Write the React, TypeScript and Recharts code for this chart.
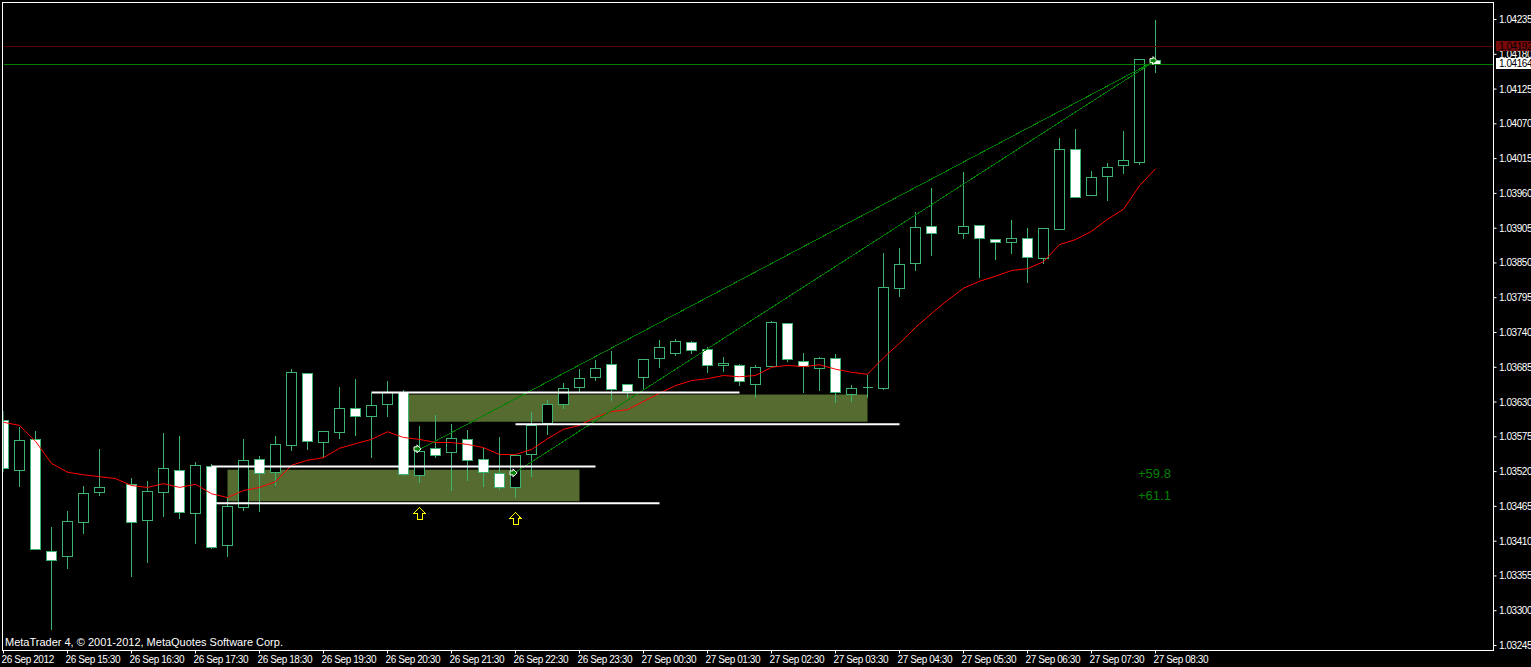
import React from "react"
import { ComposedChart, Bar, Line, XAxis, YAxis, ReferenceArea, ReferenceLine, ReferenceDot } from "recharts"

const FONT = "'Liberation Sans', Arial, sans-serif"
const CANDLE = "#3cb371"

// M15 bars, null where the feed has no bar
const opens = [
  1.03601, 1.03522, 1.03571, 1.03394, 1.03386, 1.03440, 1.03487, null, 1.03500, 1.03443,
  1.03487, 1.03522, 1.03454, 1.03528, 1.03403, 1.03463, 1.03539, 1.03519, 1.03561, 1.03675,
  1.03566, 1.03582, 1.03620, 1.03607, 1.03626, 1.03645, 1.03514, 1.03557, 1.03550, 1.03571,
  1.03539, 1.03517, 1.03495, 1.03547, 1.03596, 1.03626, 1.03653, 1.03669, 1.03689, 1.03658,
  1.03669, 1.03699, 1.03707, 1.03724, 1.03713, 1.03688, 1.03688, 1.03658, 1.03686, 1.03754,
  1.03694, 1.03683, 1.03699, 1.03642, 1.03653, 1.03651, 1.03810, 1.03849, 1.03908, null,
  1.03897, 1.03909, 1.03887, 1.03882, 1.03889, 1.03857, 1.03903, 1.04029, 1.03957, 1.03987,
  1.04004, 1.04009, 1.04170,
]
const highs = [
  1.03617, 1.03591, 1.03585, 1.03433, 1.03458, 1.03498, 1.03557, null, 1.03511, 1.03506,
  1.03582, 1.03577, 1.03536, 1.03533, 1.03481, 1.03572, 1.03546, 1.03577, 1.03683, 1.03677,
  1.03583, 1.03655, 1.03667, 1.03645, 1.03664, 1.03650, 1.03593, 1.03610, 1.03596, 1.03587,
  1.03558, 1.03576, 1.03546, 1.03615, 1.03634, 1.03661, 1.03683, 1.03697, 1.03712, 1.03658,
  1.03697, 1.03729, 1.03731, 1.03727, 1.03718, 1.03702, 1.03691, 1.03689, 1.03759, 1.03754,
  1.03708, 1.03702, 1.03707, 1.03658, 1.03674, 1.03867, 1.03874, 1.03931, 1.03969, null,
  1.03995, 1.03909, 1.03889, 1.03919, 1.03906, 1.03905, 1.04048, 1.04063, 1.03996, 1.04009,
  1.04060, 1.04172, 1.04235,
]
const lows = [
  1.03520, 1.03496, 1.03397, 1.03270, 1.03367, 1.03422, 1.03482, null, 1.03354, 1.03376,
  1.03449, 1.03446, 1.03406, 1.03398, 1.03386, 1.03458, 1.03457, 1.03498, 1.03553, 1.03555,
  1.03542, 1.03572, 1.03577, 1.03542, 1.03607, 1.03514, 1.03503, 1.03542, 1.03490, 1.03506,
  1.03496, 1.03492, 1.03479, 1.03512, 1.03579, 1.03620, 1.03645, 1.03664, 1.03632, 1.03637,
  1.03651, 1.03685, 1.03704, 1.03707, 1.03677, 1.03678, 1.03656, 1.03637, 1.03686, 1.03694,
  1.03645, 1.03648, 1.03629, 1.03631, 1.03637, 1.03650, 1.03797, 1.03838, 1.03862, null,
  1.03889, 1.03827, 1.03855, 1.03865, 1.03819, 1.03849, 1.03903, 1.03954, 1.03957, 1.03949,
  1.03991, 1.04006, 1.04151,
]
const closes = [
  1.03525, 1.03569, 1.03397, 1.03379, 1.03441, 1.03485, 1.03495, null, 1.03440, 1.03489,
  1.03525, 1.03455, 1.03530, 1.03400, 1.03465, 1.03538, 1.03517, 1.03563, 1.03677, 1.03568,
  1.03583, 1.03620, 1.03607, 1.03625, 1.03645, 1.03515, 1.03552, 1.03546, 1.03572, 1.03538,
  1.03519, 1.03495, 1.03546, 1.03593, 1.03626, 1.03651, 1.03667, 1.03683, 1.03650, 1.03647,
  1.03697, 1.03716, 1.03726, 1.03712, 1.03688, 1.03691, 1.03663, 1.03685, 1.03756, 1.03697,
  1.03686, 1.03699, 1.03645, 1.03651, 1.03653, 1.03811, 1.03848, 1.03906, 1.03897, null,
  1.03908, 1.03889, 1.03882, 1.03889, 1.03859, 1.03905, 1.04029, 1.03954, 1.03985, 1.04001,
  1.04012, 1.04172, 1.04164,
]
const ma = [
  1.03598, 1.03593, 1.03568, 1.03533, 1.03519, 1.03515, 1.03512, 1.03509, 1.03498, 1.03495,
  1.03501, 1.03495, 1.03500, 1.03485, 1.03479, 1.03490, 1.03495, 1.03504, 1.03530, 1.03538,
  1.03542, 1.03557, 1.03564, 1.03571, 1.03583, 1.03574, 1.03571, 1.03566, 1.03566, 1.03563,
  1.03558, 1.03547, 1.03547, 1.03555, 1.03572, 1.03587, 1.03593, 1.03606, 1.03615, 1.03618,
  1.03631, 1.03644, 1.03656, 1.03664, 1.03667, 1.03672, 1.03670, 1.03672, 1.03685, 1.03688,
  1.03686, 1.03689, 1.03682, 1.03677, 1.03674, 1.03700, 1.03723, 1.03748, 1.03770, 1.03791,
  1.03810, 1.03821, 1.03829, 1.03838, 1.03841, 1.03852, 1.03879, 1.03887, 1.03900, 1.03919,
  1.03935, 1.03972, 1.03999,
]

const priceTicks = [
  1.04235, 1.0418, 1.04125, 1.0407, 1.04015, 1.0396, 1.03905, 1.0385, 1.03795, 1.0374,
  1.03685, 1.0363, 1.03575, 1.0352, 1.03465, 1.0341, 1.03355, 1.033, 1.03245,
]
const timeTicks = [0, 4, 8, 12, 16, 20, 24, 28, 32, 36, 40, 44, 48, 52, 56, 60, 64, 68, 72]
const timeLabels = [
  "26 Sep 2012", "26 Sep 15:30", "26 Sep 16:30", "26 Sep 17:30", "26 Sep 18:30", "26 Sep 19:30",
  "26 Sep 20:30", "26 Sep 21:30", "26 Sep 22:30", "26 Sep 23:30", "27 Sep 00:30", "27 Sep 01:30",
  "27 Sep 02:30", "27 Sep 03:30", "27 Sep 04:30", "27 Sep 05:30", "27 Sep 06:30", "27 Sep 07:30",
  "27 Sep 08:30",
]

// chart objects: [bar from, bar to, price from, price to]
const zones = [
  [14, 36, 1.03473, 1.03523],
  [25, 54, 1.03599, 1.03642],
]
const whiteLines = [
  [23, 46, 1.03645],
  [32, 56, 1.03595],
  [13, 37, 1.03528],
  [13.3, 41, 1.0347],
]
const channelLines = [
  [26, 72, 1.03555, 1.0417],
  [32, 72, 1.03519, 1.0417],
]
const upArrows = [
  [26, 1.03454],
  [32, 1.03446],
]
const greenArrows = [
  [25.875, 1.03556],
  [31.875, 1.03518],
  [71.875, 1.0417],
]

const data = ma.map((m, i) => ({
  i,
  ma: m,
  open: opens[i],
  high: highs[i],
  low: lows[i],
  close: closes[i],
}))

function Candle(props: any) {
  const { x, y, width, height, payload } = props
  if (payload.high == null || payload.low == null) return null
  const k = height / (payload.high - payload.low)
  const cx = Math.floor(x + width / 2) + 0.5
  const bull = payload.close >= payload.open
  const top = Math.floor(y + (payload.high - Math.max(payload.open, payload.close)) * k) + 0.5
  const bottom = Math.floor(y + (payload.high - Math.min(payload.open, payload.close)) * k) + 0.5
  const wickTop = Math.floor(y) + 0.5
  const wickBottom = Math.floor(y + height) + 0.5
  const left = Math.max(cx - 5, 3)
  return (
    <g shapeRendering="crispEdges">
      <line x1={cx} x2={cx} y1={wickTop} y2={wickBottom} stroke={CANDLE} />
      {top === bottom ? (
        <line x1={left} x2={cx + 5} y1={top} y2={top} stroke={CANDLE} />
      ) : (
        <rect x={left} y={top} width={cx + 5 - left} height={bottom - top} fill={bull ? "#000" : "#fff"} stroke={CANDLE} />
      )}
    </g>
  )
}

function PriceTick(props: any) {
  return (
    <text x={1499} y={props.y + 3.5} fill="#fff" fontSize={10} fontFamily={FONT} letterSpacing={-0.45}>
      {props.payload.value.toFixed(5)}
    </text>
  )
}

function TimeTick(props: any) {
  return (
    <text x={props.x - 2} y={663} fill="#fff" fontSize={10} fontFamily={FONT} letterSpacing={-0.4}>
      {timeLabels[props.index]}
    </text>
  )
}

function UpArrow(props: any) {
  const { cx, cy } = props
  const p = `${cx},${cy - 6} ${cx + 5.5},${cy} ${cx + 2.5},${cy} ${cx + 2.5},${cy + 6} ${cx - 2.5},${cy + 6} ${cx - 2.5},${cy} ${cx - 5.5},${cy}`
  return <polygon points={p} fill="none" stroke="#ffff00" shapeRendering="crispEdges" />
}

function GreenArrow(props: any) {
  const { cx, cy } = props
  const p = `${cx + 3.5},${cy} ${cx - 0.5},${cy - 4} ${cx - 0.5},${cy - 2} ${cx - 3.5},${cy - 2} ${cx - 3.5},${cy + 2} ${cx - 0.5},${cy + 2} ${cx - 0.5},${cy + 4}`
  return <polygon points={p} fill="#008000" stroke="#fff" />
}

export default function App() {
  return (
    <div style={{ position: "absolute", left: 0, top: 0, width: 1531, height: 667, background: "#000", overflow: "hidden" }}>
      <ComposedChart width={1531} height={667} data={data} margin={{ top: 2.5, right: 0, bottom: 0, left: 3.5 }}>
        <XAxis
          type="number"
          dataKey="i"
          domain={[0, 93.125]}
          allowDataOverflow
          ticks={timeTicks}
          interval={0}
          height={16.5}
          tickSize={3}
          axisLine={false}
          tickLine={{ stroke: "#fff" }}
          tick={<TimeTick />}
        />
        <YAxis
          orientation="right"
          type="number"
          domain={[1.032371, 1.042619]}
          allowDataOverflow
          ticks={priceTicks}
          interval={0}
          width={37.5}
          tickSize={3}
          axisLine={false}
          tickLine={{ stroke: "#fff" }}
          tick={<PriceTick />}
        />
        {zones.map((z, i) => (
          <ReferenceArea key={i} x1={z[0]} x2={z[1]} y1={z[2]} y2={z[3]} fill="#556b2f" fillOpacity={1} stroke="none" />
        ))}
        <Bar
          dataKey={(d: any) => (d.high == null ? null : [d.low, d.high])}
          barSize={11}
          shape={<Candle />}
          isAnimationActive={false}
        />
        <Line dataKey="ma" stroke="#ff0000" strokeWidth={1} dot={false} type="linear" isAnimationActive={false} />
        {channelLines.map((l, i) => (
          <ReferenceLine
            key={i}
            segment={[{ x: l[0], y: l[2] }, { x: l[1], y: l[3] }]}
            stroke="#008000"
            strokeWidth={1}
            shapeRendering="crispEdges"
          />
        ))}
        {whiteLines.map((l, i) => (
          <ReferenceLine
            key={i}
            segment={[{ x: l[0], y: l[2] }, { x: l[1], y: l[2] }]}
            stroke="#fff"
            strokeWidth={2}
          />
        ))}
        <ReferenceLine y={1.04192} stroke="#5a0000" shapeRendering="crispEdges" />
        <ReferenceLine y={1.04164} stroke="#008000" shapeRendering="crispEdges" />
        {upArrows.map((a, i) => (
          <ReferenceDot key={i} x={a[0]} y={a[1]} shape={<UpArrow />} />
        ))}
        {greenArrows.map((a, i) => (
          <ReferenceDot key={i} x={a[0]} y={a[1]} shape={<GreenArrow />} />
        ))}
        <text x={1138} y={478} fill="#008000" fontSize={13} fontFamily={FONT}>+59.8</text>
        <text x={1138} y={500} fill="#008000" fontSize={13} fontFamily={FONT}>+61.1</text>
        <text x={5} y={646} fill="#fff" fontSize={11} fontFamily={FONT}>
          MetaTrader 4, © 2001-2012, MetaQuotes Software Corp.
        </text>
      </ComposedChart>
      {/* chart window frame */}
      <div style={{ position: "absolute", left: 2, top: 2, width: 1490, height: 647, border: "1px solid #fff", pointerEvents: "none" }} />
      {/* bid/ask flags sit on top of the axis labels */}
      <svg width={35} height={30} style={{ position: "absolute", left: 1496, top: 40 }}>
        <rect x={0} y={1} width={35} height={10} fill="#7a0a0a" />
        <text x={3} y={10} fill="#000" fontSize={10} fontFamily={FONT} letterSpacing={-0.45}>1.04192</text>
        <rect x={0} y={18} width={35} height={11} fill="#fff" />
        <text x={3} y={27} fill="#000" fontSize={10} fontFamily={FONT} letterSpacing={-0.45}>1.04164</text>
      </svg>
    </div>
  )
}
